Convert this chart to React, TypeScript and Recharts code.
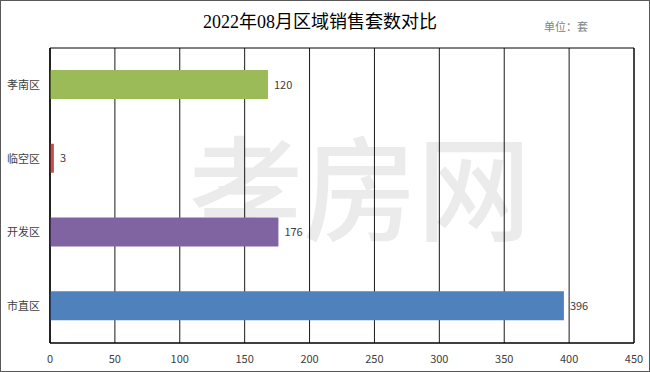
import React from "react";
import {
  BarChart,
  Bar,
  Cell,
  CartesianGrid,
  XAxis,
  YAxis,
  LabelList,
  ReferenceArea,
} from "recharts";

// data (bar length for 孝南区 is ~168 though its label reads 120)
const districts = ["孝南区", "临空区", "开发区", "市直区"];
const counts = [168, 3, 176, 396];
const countLabels = ["120", "3", "176", "396"];
const barColors = ["#9BBB59", "#C0504D", "#8064A2", "#4F81BD"];
const xTicks = [0, 50, 100, 150, 200, 250, 300, 350, 400, 450];

const chartData = districts.map((name, i) => ({
  name,
  count: counts[i],
  label: countLabels[i],
}));

const tickFont = "'Noto Sans CJK SC', 'Noto Sans', sans-serif";

const ValueLabel = (props: any) => {
  const { x, y, width, height, index } = props;
  return (
    <text
      x={x + width + 6}
      y={y + height / 2}
      dy={4}
      fontSize={11}
      fill="#404040"
      fontFamily={tickFont}
    >
      {countLabels[index]}
    </text>
  );
};

const CategoryTick = (props: any) => {
  const { x, y, payload } = props;
  return (
    <text
      x={x - 2}
      y={y}
      dy={4}
      textAnchor="end"
      fontSize={11}
      fill="#404040"
      fontFamily={tickFont}
    >
      {payload.value}
    </text>
  );
};

const App: React.FC = () => {
  return (
    <div
      style={{
        position: "absolute",
        left: 0,
        top: 0,
        width: 650,
        height: 372,
        background: "#fff",
      }}
    >
      <BarChart
        width={650}
        height={372}
        data={chartData}
        layout="vertical"
        margin={{ top: 48, right: 16, left: 0, bottom: 9 }}
      >
        <text
          x={320}
          y={28}
          textAnchor="middle"
          fontSize={18}
          fill="#000"
          fontFamily="'Liberation Serif', 'Noto Sans CJK SC', serif"
        >
          2022年08月区域销售套数对比
        </text>
        <text
          x={566}
          y={31}
          textAnchor="middle"
          fontSize={11}
          fill="#7f7f7f"
          fontFamily={tickFont}
        >
          单位：套
        </text>
        <CartesianGrid horizontal={false} stroke="#000" strokeOpacity={0.9} />
        <ReferenceArea x1={0} x2={450} stroke="#000" fill="none" ifOverflow="extendDomain" />
        <XAxis
          type="number"
          domain={[0, 450]}
          ticks={xTicks}
          interval={0}
          height={20}
          axisLine={{ stroke: "#000" }}
          tickLine={false}
          tick={{ fontSize: 11, fill: "#404040", fontFamily: tickFont }}
          tickMargin={6}
        />
        <YAxis
          type="category"
          dataKey="name"
          width={50}
          axisLine={{ stroke: "#000" }}
          tickLine={false}
          tick={<CategoryTick />}
        />
        <Bar dataKey="count" barSize={29} isAnimationActive={false}>
          {chartData.map((d, i) => (
            <Cell key={d.name} fill={barColors[i]} />
          ))}
          <LabelList dataKey="label" content={<ValueLabel />} />
        </Bar>
        <text
          x={360}
          y={232}
          textAnchor="middle"
          fontSize={114}
          fontWeight={500}
          fill="#000"
          fillOpacity={0.08}
          fontFamily="'Noto Sans CJK SC', sans-serif"
        >
          孝房网
        </text>
      </BarChart>
      <div
        style={{
          position: "absolute",
          left: 0,
          top: 0,
          width: 650,
          height: 372,
          boxSizing: "border-box",
          border: "1px solid #595959",
          pointerEvents: "none",
        }}
      />
    </div>
  );
};

export default App;
